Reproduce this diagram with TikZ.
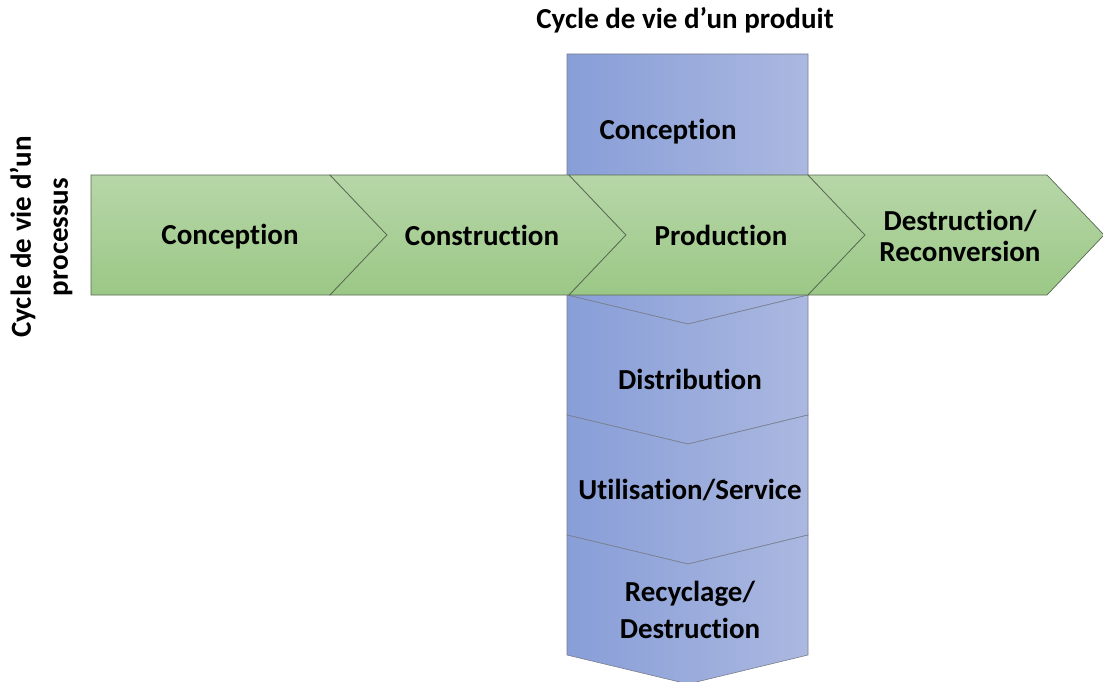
\documentclass[tikz,border=0pt]{standalone}
\usepackage{fontspec}
\setmainfont[Ligatures=NoCommon]{Carlito}
\definecolor{greentop}{RGB}{183,214,168}
\definecolor{greenbot}{RGB}{155,200,134}
\definecolor{greenedge}{RGB}{88,104,82}
\definecolor{blueleft}{RGB}{136,158,216}
\definecolor{blueright}{RGB}{171,184,224}
\definecolor{blueedge}{RGB}{120,126,140}
\tikzset{
  greenpart/.style={draw=greenedge, line width=0.7pt, line join=miter, top color=greentop, bottom color=greenbot},
  bluepart/.style={draw=blueedge, line width=0.6pt, left color=blueleft, right color=blueright},
  txt/.style={font=\bfseries\fontsize{29}{37}\selectfont, align=center, inner sep=0pt}
}

\begin{document}
\begin{tikzpicture}[x=1pt,y=-1pt]
      \useasboundingbox (0,0) rectangle (1103,682);
      % product column
      \draw[bluepart] (567,54) -- (808,54) -- (808,295) -- (688,324) -- (567,295) -- cycle;
      \foreach \y in {295,415,535}
        \draw[bluepart] (567,\y) -- (688,\y+29) -- (808,\y) -- (808,\y+120) -- (688,\y+149) -- (567,\y+120) -- cycle;
      % process band
      \draw[greenpart] (91,175) -- (330,175) -- (387,235) -- (330,295) -- (91,295) -- cycle;
      \foreach \x in {330,569,808}
        \draw[greenpart] (\x,175) -- (\x+239,175) -- (\x+296,235) -- (\x+239,295) -- (\x,295) -- (\x+57,235) -- cycle;

      \node[txt] (title) at (685,20) {Cycle de vie d’un produit};
      \node[txt, rotate=90] (side) at (41,237) {Cycle de vie d’un\\processus};

      \node[txt] (1) at (230,237) {Conception};
      \node[txt] (2) at (482,235) {Construction};
      \node[txt] (3) at (721,235) {Production};
      \node[txt, font=\bfseries\fontsize{29}{31}\selectfont] (4) at (960,236) {Destruction/\\Reconversion};

      \node[txt] (a) at (668,132) {Conception};
      \node[txt] (b) at (690,379) {Distribution};
      \node[txt] (c) at (690,490) {Utilisation/Service};
      \node[txt] (d) at (690,610) {Recyclage/\\Destruction};
    \end{tikzpicture}
\end{document}
